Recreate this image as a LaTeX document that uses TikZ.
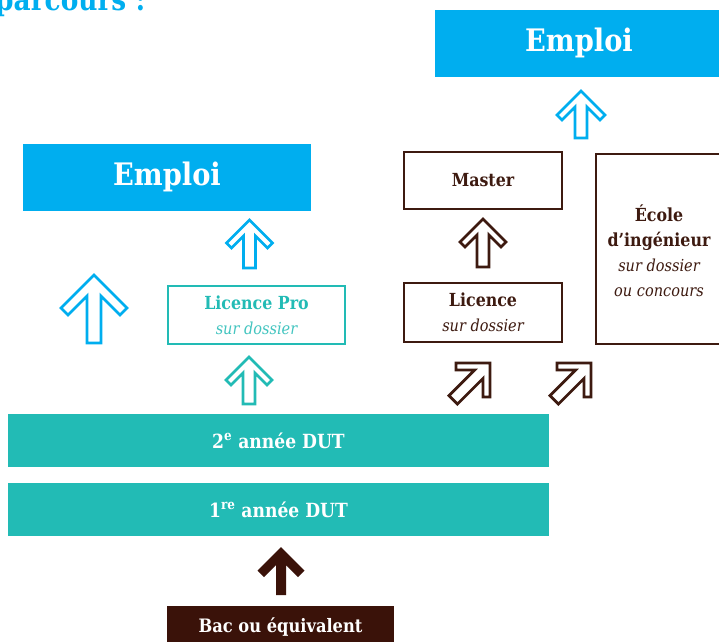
\documentclass[tikz,border=0pt]{standalone}
\usepackage{fontspec}
\setmainfont[FakeStretch=0.88]{DejaVu Serif}
\definecolor{cyanb}{HTML}{00AEEF}
\definecolor{tealb}{HTML}{22BBB5}
\definecolor{brownb}{HTML}{3A1209}
\definecolor{brownl}{HTML}{3D1A10}
% #1 options, #2 a (half head), #3 h (length), #4 s (half shaft), #5 u (arm offset)
\newcommand\blockarr[5]{%
  \draw[#1] (0,0) -- (-#2,#2) -- ({-#2+#5},{#2+#5}) -- (-#4,{#4+2*#5}) -- (-#4,#3)
    -- (#4,#3) -- (#4,{#4+2*#5}) -- ({#2-#5},{#2+#5}) -- (#2,#2) -- cycle;}
\newcommand\boldtxt{\fontsize{18}{25}\selectfont\bfseries}
\newcommand\itatxt{\fontsize{16.5}{25}\selectfont\itshape}
\tikzset{
  filledbox/.style={rectangle, inner sep=0pt, text=white, font=\bfseries},
  outbox/.style={rectangle, inner sep=0pt, draw, line width=2.8pt, align=center, font=\fontsize{18}{25}\selectfont},
  outarr/.style={line width=2.8pt, line join=miter, fill=white},
}
\begin{document}
\begin{tikzpicture}[x=1pt,y=-1pt]
\clip (0,0) rectangle (719,641);
\fill[white] (0,0) rectangle (719,641);
% title (cut)
\node[anchor=base west, inner sep=0pt, text=cyanb, font=\fontsize{30}{32}\selectfont\bfseries] (title) at (-5,10) {parcours :};
% boxes
\node[filledbox, fill=cyanb, minimum width=288pt, minimum height=67pt, font=\fontsize{31}{34}\selectfont\bfseries] (emploiR) at (579,43) {Emploi};
\node[filledbox, fill=cyanb, minimum width=288pt, minimum height=67pt, font=\fontsize{31}{34}\selectfont\bfseries] (emploiL) at (167,177) {Emploi};
\node[outbox, draw=tealb, text=tealb, minimum width=177pt, minimum height=58pt] (licpro) at (256.5,315)
  {{\boldtxt Licence Pro}\\{\itatxt\color{tealb!85} sur dossier}};
\node[outbox, draw=brownl, text=brownl, minimum width=158pt, minimum height=57pt] (master) at (483,180.5) {\boldtxt Master};
\node[outbox, draw=brownl, text=brownl, minimum width=158pt, minimum height=59pt] (licence) at (483,312.5)
  {{\boldtxt Licence}\\{\itatxt sur dossier}};
\node[outbox, draw=brownl, text=brownl, minimum width=130pt, minimum height=190pt] (ecole) at (661,249) {};
\node[align=center, text=brownl, inner sep=0pt, font=\fontsize{18}{25}\selectfont] (ecoletxt) at (659,251)
  {{\boldtxt École}\\
   {\boldtxt d'ingénieur}\\
   {\itatxt sur dossier}\\
   {\itatxt ou concours}};
\node[filledbox, fill=tealb, minimum width=541pt, minimum height=53pt, font=\fontsize{19.5}{22}\selectfont\bfseries] (dut2) at (278.5,440.5) {2\textsuperscript{e} année DUT};
\node[filledbox, fill=tealb, minimum width=541pt, minimum height=53pt, font=\fontsize{19.5}{22}\selectfont\bfseries] (dut1) at (278.5,509.5) {1\textsuperscript{re} année DUT};
\node[filledbox, fill=brownb, minimum width=227pt, minimum height=42pt, font=\fontsize{18.5}{22}\selectfont\bfseries] (bac) at (280.5,627) {Bac ou équivalent};
% block arrows
\blockarr{outarr, draw=cyanb, shift={(581,91)}}{24}{47}{6}{5}
\blockarr{outarr, draw=cyanb, shift={(249.5,220)}}{23}{48}{6}{5}
\blockarr{outarr, draw=cyanb, shift={(94,275)}}{33}{68}{7}{7}
\blockarr{outarr, draw=tealb, shift={(249,357)}}{23}{47}{6}{5}
\blockarr{outarr, draw=brownl, shift={(483,219)}}{23}{48}{6}{5}
\blockarr{outarr, draw=brownl, shift={(490,363)}, rotate=-45}{24}{52}{6}{5}
\blockarr{outarr, draw=brownl, shift={(591,363)}, rotate=-45}{24}{52}{6}{5}
\blockarr{fill=brownb, draw=none, shift={(281,547)}}{23.5}{48}{5}{6.5}
\end{tikzpicture}
\end{document}
